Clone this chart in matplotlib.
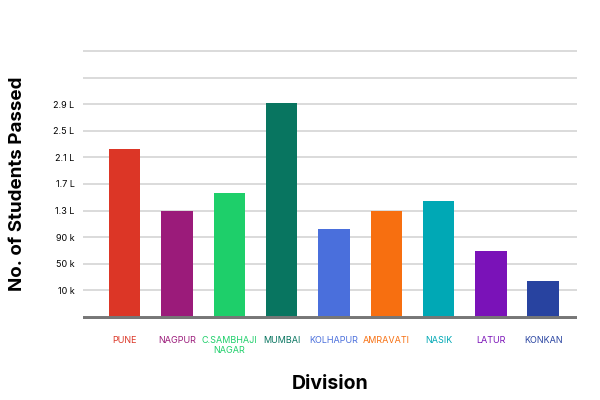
import matplotlib
matplotlib.use("Agg")
import matplotlib.pyplot as plt

divisions = ["PUNE", "NAGPUR", "C.SAMBHAJI\nNAGAR", "MUMBAI", "KOLHAPUR", "AMRAVATI", "NASIK", "LATUR", "KONKAN"]
passed = [222000, 129000, 157000, 291000, 102000, 130000, 145000, 69000, 24000]
colors = ["#dc3626", "#9b1b7a", "#1ecf6a", "#087560", "#4a6fdc", "#f76f10", "#00a8b5", "#7a12b8", "#2843a0"]
tick_vals = [10000, 50000, 90000, 130000, 170000, 210000, 250000, 290000]
tick_labels = ["10 k", "50 k", "90 k", "1.3 L", "1.7 L", "2.1 L", "2.5 L", "2.9 L"]
grid_vals = tick_vals + [330000, 370000]

plt.rcParams['font.family'] = ['Inter', 'DejaVu Sans']
fig = plt.figure(figsize=(6, 4), dpi=100)
ax = fig.add_axes([0.138, 0.2025, 0.824, 0.6785])
ymin = -33000
ax.set_ylim(ymin, 375000)
ax.set_xlim(-0.8, 8.65)
for g in grid_vals:
    ax.axhline(g, color="#d4d4d4", lw=1.2, zorder=0)
x = list(range(len(divisions)))
ax.bar(x, [v - ymin for v in passed], bottom=ymin, width=0.6, color=colors, zorder=2)
ax.axhline(ymin, color="#777777", lw=5, zorder=3)
ax.set_yticks(tick_vals)
ax.set_yticklabels(tick_labels, fontsize=6.5)
ax.set_xticks(x)
ax.set_xticklabels(divisions, fontsize=6.5)
for lbl, c in zip(ax.get_xticklabels(), colors):
    lbl.set_color(c)
ax.tick_params(length=0, pad=12, axis='x')
ax.tick_params(length=0, pad=6, axis='y')
for s in ax.spines.values():
    s.set_visible(False)
ax.set_ylabel("No. of Students Passed", fontsize=13.5, fontweight="bold", labelpad=20)
ax.set_xlabel("Division", fontsize=14, fontweight="bold", labelpad=14)
fig.savefig("out.png", dpi=100, facecolor="white")
